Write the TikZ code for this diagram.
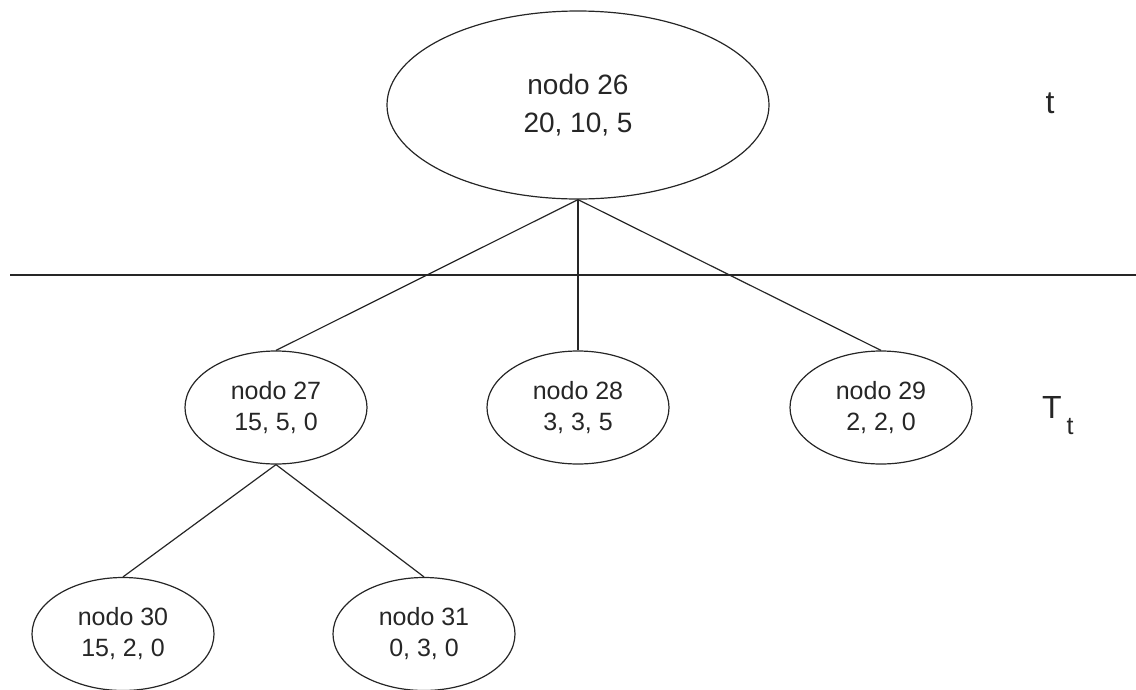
\documentclass[tikz,border=0pt]{standalone}
\usepackage{fontspec}
\setmainfont{Liberation Sans}
\usetikzlibrary{shapes.geometric}
\begin{document}
\begin{tikzpicture}[x=1pt,y=-1pt,
  ell/.style={ellipse,draw=black!85,line width=1.2pt,inner sep=0pt,align=center,text=black!85},
  bignode/.style={ell,minimum width=382pt,minimum height=188pt,font=\fontsize{28}{38}\selectfont},
  smallnode/.style={ell,minimum width=182pt,minimum height=113pt,font=\fontsize{25}{31}\selectfont},
  conn/.style={draw=black!85,line width=1.2pt},
  lab/.style={text=black!85,inner sep=0pt}]
\useasboundingbox (0,0) rectangle (1136,689);
\node[bignode] (n26) at (578,105) {nodo 26\\20, 10, 5};
\node[smallnode] (n27) at (276,407.5) {nodo 27\\15, 5, 0};
\node[smallnode] (n28) at (578,407.5) {nodo 28\\3, 3, 5};
\node[smallnode] (n29) at (881,407.5) {nodo 29\\2, 2, 0};
\node[smallnode] (n30) at (123,634) {nodo 30\\15, 2, 0};
\node[smallnode] (n31) at (424,634) {nodo 31\\0, 3, 0};
\coordinate (hl) at (10,275);
\coordinate (hr) at (1136,275);
\draw[conn] (hl) -- (hr);
\draw[conn] (n26.south) -- (n27.north);
\draw[conn] (n26.south) -- (n28.north);
\draw[conn] (n26.south) -- (n29.north);
\draw[conn] (n27.south) -- (n30.north);
\draw[conn] (n27.south) -- (n31.north);
\node[lab,font=\fontsize{32}{32}\selectfont] (lt) at (1050,103) {t};
\node[lab,font=\fontsize{32}{32}\selectfont] (lT) at (1052,407) {T};
\node[lab,font=\fontsize{25}{25}\selectfont] (lTt) at (1070,427) {t};
\end{tikzpicture}
\end{document}
